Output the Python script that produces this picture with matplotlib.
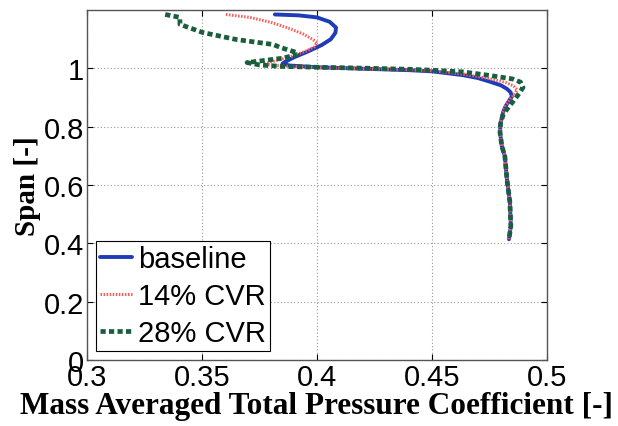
import matplotlib
matplotlib.use("Agg")
import matplotlib.pyplot as plt

# Baseline
base_x = [0.3817, 0.3920, 0.4000, 0.4055, 0.4083, 0.4080, 0.4060, 0.4020, 0.3960, 0.3900,
          0.3860, 0.3850, 0.3880, 0.4000, 0.4200, 0.4400, 0.4500, 0.4635, 0.4700, 0.4750,
          0.4800, 0.4826, 0.4842, 0.4848, 0.4840, 0.4820, 0.4809, 0.4798, 0.4796, 0.4804,
          0.4817, 0.4826, 0.4839, 0.4843, 0.4835]
base_y = [1.185, 1.182, 1.175, 1.160, 1.140, 1.122, 1.100, 1.080, 1.058, 1.038,
          1.022, 1.016, 1.010, 1.004, 0.999, 0.994, 0.990, 0.977, 0.967, 0.955,
          0.942, 0.930, 0.918, 0.904, 0.895, 0.870, 0.849, 0.810, 0.781, 0.733,
          0.699, 0.620, 0.541, 0.460, 0.414]

# 14% CVR
cvr14_x = [0.3604, 0.3709, 0.3800, 0.3880, 0.3940, 0.3980, 0.4000, 0.3990, 0.3960, 0.3900,
           0.3840, 0.3796, 0.3770, 0.3850, 0.4000, 0.4200, 0.4400, 0.4500, 0.4635, 0.4750,
           0.4820, 0.4855, 0.4870, 0.4860, 0.4840, 0.4820, 0.4809, 0.4798, 0.4796, 0.4804,
           0.4817, 0.4826, 0.4839, 0.4843, 0.4835]
cvr14_y = [1.185, 1.175, 1.158, 1.137, 1.118, 1.100, 1.089, 1.075, 1.062, 1.044,
           1.030, 1.022, 1.014, 1.008, 1.003, 0.999, 0.995, 0.992, 0.981, 0.965,
           0.952, 0.940, 0.928, 0.912, 0.895, 0.870, 0.849, 0.810, 0.781, 0.733,
           0.699, 0.620, 0.541, 0.460, 0.414]

# 28% CVR
cvr28_x = [0.3340, 0.3404, 0.3404, 0.3504, 0.3650, 0.3810, 0.3840, 0.3910, 0.3917, 0.3850,
           0.3696, 0.3750, 0.3840, 0.4000, 0.4200, 0.4400, 0.4500, 0.4635, 0.4750, 0.4850,
           0.4885, 0.4896, 0.4880, 0.4860, 0.4826, 0.4809, 0.4798, 0.4796, 0.4804, 0.4817,
           0.4826, 0.4839, 0.4843, 0.4835]
cvr28_y = [1.185, 1.175, 1.151, 1.123, 1.099, 1.082, 1.072, 1.055, 1.048, 1.035,
           1.020, 1.012, 1.007, 1.004, 1.001, 0.997, 0.994, 0.988, 0.976, 0.964,
           0.953, 0.935, 0.915, 0.894, 0.860, 0.840, 0.810, 0.781, 0.733, 0.699,
           0.620, 0.541, 0.460, 0.414]

labels = ["baseline", "14% CVR", "28% CVR"]
xticks = [0.3, 0.35, 0.4, 0.45, 0.5]
xtick_labels = ["0.3", "0.35", "0.4", "0.45", "0.5"]
yticks = [0, 0.2, 0.4, 0.6, 0.8, 1.0]
ytick_labels = ["0", "0.2", "0.4", "0.6", "0.8", "1"]

fig = plt.figure(figsize=(6.18, 4.27), dpi=100)
ax = fig.add_axes([0.1408, 0.1546, 0.885 - 0.1408, 0.974 - 0.1546])

ax.plot(base_x, base_y, color="#1f3cb8", lw=2.8, solid_capstyle="round", label=labels[0], zorder=3)
ax.plot(cvr14_x, cvr14_y, color="#ff5a5a", lw=2.2, linestyle=(0, (0.5, 0.5)), label=labels[1], zorder=4)
ax.plot(cvr28_x, cvr28_y, color="#1b5e3e", lw=3.4, linestyle=(0, (1.1, 0.7)), label=labels[2], zorder=5)

ax.set_xlim(0.3, 0.5)
ax.set_ylim(0, 1.2)
ax.set_xticks(xticks)
ax.set_xticklabels(xtick_labels)
ax.set_yticks(yticks)
ax.set_yticklabels(ytick_labels)
ax.tick_params(direction="in", length=4, labelsize=21, pad=2, top=True, right=True,
               labeltop=False, labelright=False)
for lbl in ax.get_xticklabels() + ax.get_yticklabels():
    lbl.set_family("Liberation Sans")
ax.grid(True, color="#999999", linestyle=(0, (1, 2)), linewidth=0.8)
for s in ax.spines.values():
    s.set_color("#555555")
    s.set_linewidth(1.0)

ax.set_xlabel("Mass Averaged Total Pressure Coefficient [-]", family="Liberation Serif",
              fontweight="bold", fontsize=22.5, labelpad=0)
ax.set_ylabel("Span [-]", family="Liberation Serif", fontweight="bold", fontsize=21, labelpad=2)

leg = ax.legend(loc="lower left", prop={"family": "Liberation Sans", "size": 21},
                fancybox=False, edgecolor="black", framealpha=1, handlelength=1.1,
                handletextpad=0.2, borderpad=0.15, labelspacing=0.3, borderaxespad=0.3)
leg.get_frame().set_linewidth(0.8)

fig.savefig("out.png", dpi=100)
